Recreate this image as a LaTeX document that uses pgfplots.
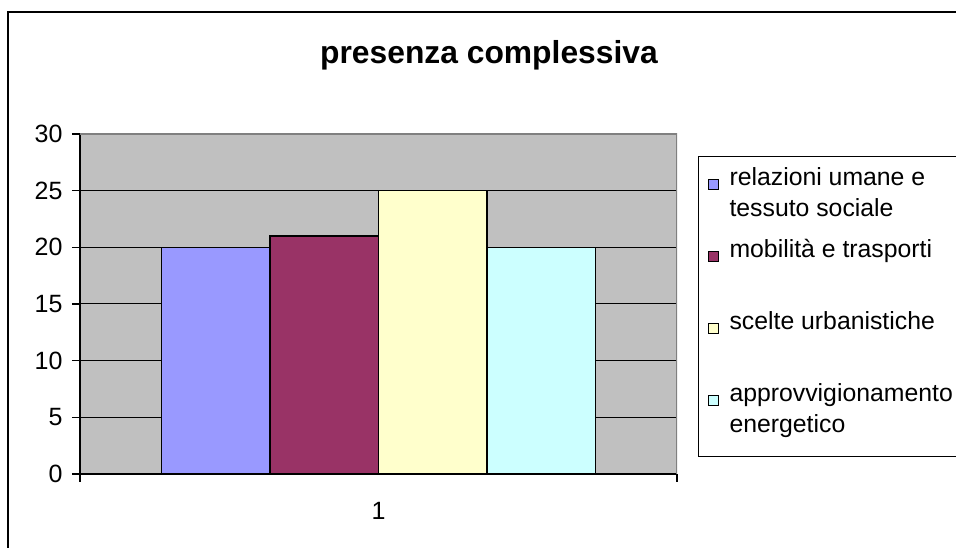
\documentclass[border=0pt]{standalone}
\usepackage{fontspec}
\setmainfont{Liberation Sans}
\usepackage{pgfplots}
\pgfplotsset{compat=1.18}

\definecolor{plotgray}{RGB}{192,192,192}
\definecolor{bordergray}{RGB}{128,128,128}
\definecolor{c1}{RGB}{153,153,255}
\definecolor{c2}{RGB}{153,51,102}
\definecolor{c3}{RGB}{255,255,204}
\definecolor{c4}{RGB}{204,255,255}

% legend text, wrapped like Excel does it
\newcommand{\legtxt}[1]{\hspace{9pt}\parbox[t]{250pt}{\raggedright #1}}

\pgfplotsset{
  xlbar/.style={ybar, bar width=0.1817, draw=black, line width=1.5pt,
    legend image code/.code={%
      \draw[##1, line width=1pt] (0pt,9pt) rectangle (10pt,19pt);}},
}

\begin{document}
\begin{tikzpicture}[x=1pt,y=1pt]
\useasboundingbox (0,0) rectangle (956,548);
% chart area frame (cropped on the right and bottom)
\draw[line width=2pt] (8,-10) -- (8,536) -- (980,536);
\node[font=\fontsize{31.8}{36}\selectfont\bfseries] at (489,493) {presenza complessiva};

\begin{axis}[
  at={(80pt,74pt)}, anchor=south west,
  scale only axis, width=597pt, height=340pt,
  font=\fontsize{25}{30}\selectfont,
  /pgf/number format/assume math mode=true,
  xmin=0.5, xmax=1.5, ymin=0, ymax=30,
  xtick={0.5,1.5}, xticklabels={},
  extra x ticks={1}, extra x tick labels={1},
  extra x tick style={major tick length=0pt, xticklabel style={yshift=-25pt}},
  ytick={0,5,...,30},
  yticklabel style={xshift=-6pt},
  axis x line*=bottom, axis y line*=left,
  axis line style={black, line width=1.5pt},
  tick style={black, line width=1.2pt},
  major tick length=8pt,
  tick align=outside,
  ymajorgrids, grid style={black, line width=1pt},
  axis background/.style={fill=plotgray},
  legend style={at={(1.0352,0.9353)}, anchor=north west,
    draw=black, line width=1pt, fill=white,
    font=\fontsize{24.8}{31}\selectfont,
    inner xsep=9pt, inner ysep=9pt, row sep=6pt,
    nodes={text depth=44pt}},
  legend cell align=left,
]
\addplot[xlbar, fill=c1, bar shift=-0.2726] coordinates {(1,20)};
\addlegendentry{\legtxt{relazioni umane e\\tessuto sociale}}
\addplot[xlbar, fill=c2, bar shift=-0.0909] coordinates {(1,21)};
\addlegendentry{\legtxt{mobilità e trasporti}}
\addplot[xlbar, fill=c3, bar shift=0.0909] coordinates {(1,25)};
\addlegendentry{\legtxt{scelte urbanistiche}}
\addplot[xlbar, fill=c4, bar shift=0.2726] coordinates {(1,20)};
\addlegendentry{\legtxt{approvvigionamento\\energetico}}
\draw[bordergray, line width=1.5pt] (rel axis cs:0,1) -- (rel axis cs:1,1) -- (rel axis cs:1,0);
\end{axis}
\end{tikzpicture}
\end{document}
